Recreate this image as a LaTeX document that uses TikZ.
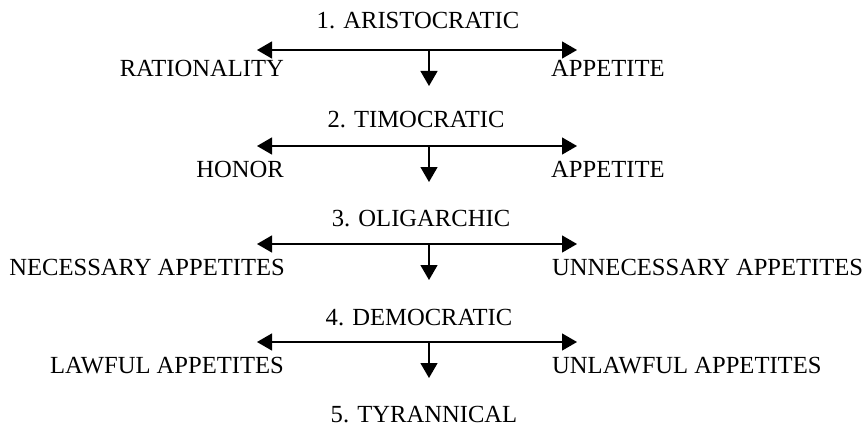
\documentclass[tikz,border=0pt]{standalone}
\usepackage{fontspec}
\setmainfont{Liberation Serif}
\usetikzlibrary{arrows.meta}
\begin{document}
\begin{tikzpicture}[x=1pt,y=-1pt,
  txt/.style={inner sep=0pt,font=\fontsize{24.6}{28}\selectfont},
  ttl/.style={txt,anchor=base},
  lft/.style={txt,anchor=base east},
  rgt/.style={txt,anchor=base west},
  conn/.style={line width=1.3pt,-{Triangle[length=15pt,width=17pt]}},
  biconn/.style={line width=1.3pt,{Triangle[length=15pt,width=17pt]}-{Triangle[length=15pt,width=17pt]}}]
\useasboundingbox (0,0) rectangle (866,425);
% titles
\node[ttl] (t1) at (418,29) {1. ARISTOCRATIC};
\node[ttl] (t2) at (416,127) {2. TIMOCRATIC};
\node[ttl] (t3) at (421,226) {3. OLIGARCHIC};
\node[ttl] (t4) at (419,325) {4. DEMOCRATIC};
\node[ttl] (t5) at (424,422) {5. TYRANNICAL};
% side labels
\node[lft] (l1) at (284,77) {RATIONALITY};
\node[rgt] (r1) at (551,77) {APPETITE};
\node[lft] (l2) at (284,177) {HONOR};
\node[rgt] (r2) at (551,177) {APPETITE};
\node[lft] (l3) at (285,275) {NECESSARY APPETITES};
\node[rgt] (r3) at (552,275) {UNNECESSARY APPETITES};
\node[lft] (l4) at (284,373) {LAWFUL APPETITES};
\node[rgt] (r4) at (552,373) {UNLAWFUL APPETITES};
% connector coordinates
\foreach \i/\y in {1/50,2/146,3/244,4/342}{
  \coordinate (a\i) at (257,\y);
  \coordinate (b\i) at (577,\y);
  \coordinate (c\i) at (429,\y);
  \coordinate (d\i) at (429,\y+36);
  \draw[biconn] (a\i) -- (b\i);
  \draw[conn] (c\i) -- (d\i);
}
\end{tikzpicture}
\end{document}
